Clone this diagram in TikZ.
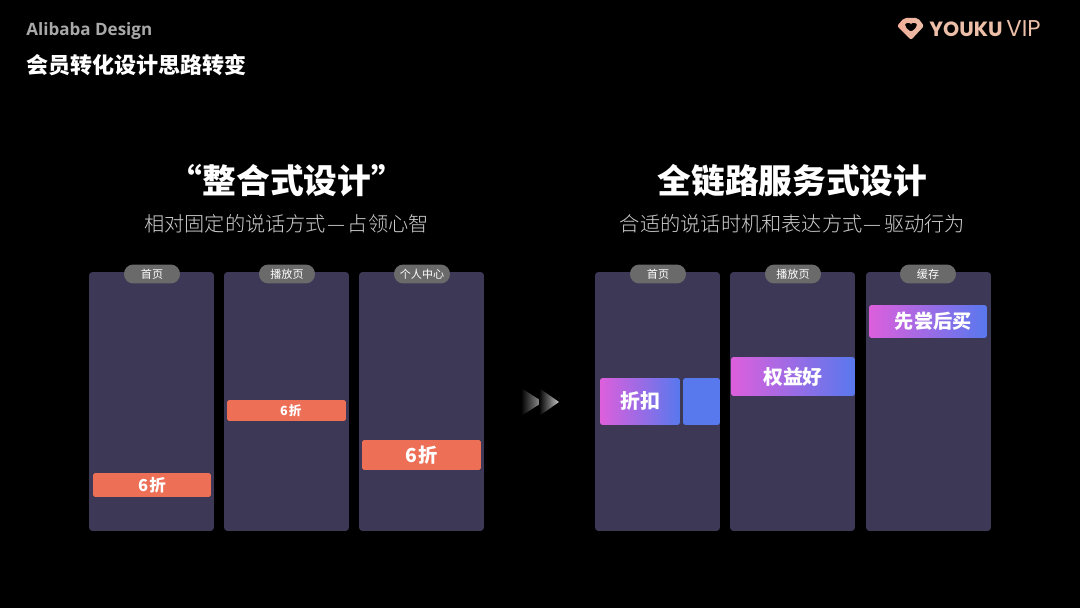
\documentclass[tikz,border=0pt]{standalone}
\usepackage{fontspec}
\setmainfont{Noto Sans CJK SC}
\newfontfamily\lightfont[UprightFont=* Light]{Noto Sans CJK SC}
\newfontfamily\latinfont{Open Sans}
\newfontfamily\logofont{Poppins}
\usetikzlibrary{calc}
\definecolor{cardcol}{HTML}{3C3855}
\definecolor{pillcol}{HTML}{6A6A6A}
\definecolor{barcol}{HTML}{EC6F56}
\definecolor{pinkcol}{HTML}{DD5FDC}
\definecolor{bluecol}{HTML}{5878EE}
\definecolor{greycol}{HTML}{A9A9A9}
\definecolor{subcol}{HTML}{D0D0D0}
\definecolor{logocol}{HTML}{EDBFA8}
\tikzset{
	card/.style={fill=cardcol,rounded corners=2pt,minimum width=2.5cm,minimum height=5.18cm,inner sep=0pt},
	pill/.style={fill=pillcol,rounded corners=5.3pt,minimum width=1.12cm,minimum height=0.38cm,inner sep=0pt,text=white,font=\fontsize{6.3}{7}\selectfont},
	bar/.style={fill=barcol,rounded corners=1pt,inner sep=0pt,text=white,font=\bfseries},
	gbar/.style={left color=pinkcol,right color=bluecol,rounded corners=1.5pt,inner sep=0pt,text=white,font=\fontsize{11.3}{13}\bfseries\selectfont},
	head/.style={text=white,inner sep=0pt,font=\fontsize{19.2}{22}\bfseries\selectfont},
	subhead/.style={text=subcol,inner sep=0pt,font=\lightfont\fontsize{11.5}{14}\selectfont},
}
\newcommand{\subdash}{\kern0.6pt—\kern1.6pt}
\begin{document}
\begin{tikzpicture}[x=0.02cm,y=-0.02cm]
	\fill[black] (0,0) rectangle (1080,608);
	\useasboundingbox (0,0) rectangle (1080,608);
	\node[anchor=west,inner sep=0pt,text=greycol,font=\latinfont\fontsize{9.7}{11}\bfseries\selectfont] (brand) at (26,31) {Alibaba Design};
	\node[anchor=west,inner sep=0pt,text=white,font=\fontsize{12.55}{14}\bfseries\selectfont] (title) at (26,65) {会员转化设计思路转变};
	% logo
	\fill[left color=logocol!90!red,right color=logocol,even odd rule,rounded corners=1.2pt] (904,18)--(918,18)--(924,26)--(911,40)--(897,26)--cycle
		(911,32)--(905,27) .. controls (905,22.5) and (910,22.5) .. (911,25.5) .. controls (912,22.5) and (917,22.5) .. (917,27)--cycle;
	\node[anchor=west,inner sep=0pt,text=logocol,font=\logofont\fontsize{11.7}{14}\bfseries\selectfont] (youku) at (929,29) {YOUKU};
	\node[anchor=west,inner sep=0pt,text=logocol,font=\logofont\fontsize{13}{14}\selectfont] (vip) at (1006,29) {VIP};
	% left
	\node[head] (lhead) at (287,181) {“整合式设计”};
	\node[subhead] (lsub) at (286.5,224) {相对固定的说话方式\subdash 占领心智};
	\node[card] (la) at (151.5,401.5) {};
	\node[card] (lb) at (286.5,401.5) {};
	\node[card] (lc) at (421.5,401.5) {};
	\node[pill] (pa) at (152,274) {首页};
	\node[pill] (pb) at (287,274) {播放页};
	\node[pill] (pc) at (422,274) {个人中心};
	\node[bar,minimum width=2.36cm,minimum height=0.48cm,font=\fontsize{9.4}{11}\bfseries\selectfont] (ba) at (152,485) {6\kern0.6pt折};
	\node[bar,minimum width=2.38cm,minimum height=0.42cm,font=\fontsize{7.2}{9}\bfseries\selectfont] (bb) at (286.5,410.5) {\hspace{5pt}6\kern0.6pt折};
	\node[bar,minimum width=2.38cm,minimum height=0.6cm,font=\fontsize{11}{13}\bfseries\selectfont] (bc) at (421.5,455) {6\kern0.8pt折};
	% arrows
	\shade[left color=black,right color=white!65!black] (521,388)--(543,402)--(521,416)--cycle;
	\shade[left color=black,right color=white!78!black] (539,388)--(559,402)--(539,416)--cycle;
	% right
	\node[head] (rhead) at (792.5,181) {全链路服务式设计};
	\node[subhead] (rsub) at (792.5,224) {合适的说话时机和表达方式\subdash 驱动行为};
	\node[card] (ra) at (657.5,401.5) {};
	\node[card] (rb) at (792.5,401.5) {};
	\node[card] (rc) at (928.5,401.5) {};
	\node[pill] (qa) at (658,274) {首页};
	\node[pill] (qb) at (793,274) {播放页};
	\node[pill] (qc) at (928,274) {缓存};
	\node[gbar,minimum width=1.6cm,minimum height=0.94cm] (ga) at (640,401.5) {折扣};
	\node[fill=bluecol,rounded corners=1.5pt,minimum width=0.74cm,minimum height=0.94cm,inner sep=0pt] (gb) at (701.5,401.5) {};
	\node[gbar,minimum width=2.48cm,minimum height=0.78cm] (gc) at (793,376.5) {权益好};
	\node[gbar,minimum width=2.36cm,minimum height=0.66cm,font=\fontsize{10.9}{13}\bfseries\selectfont] (gd) at (928,321.5) {\hspace{6pt}先尝后买};
\end{tikzpicture}
\end{document}
